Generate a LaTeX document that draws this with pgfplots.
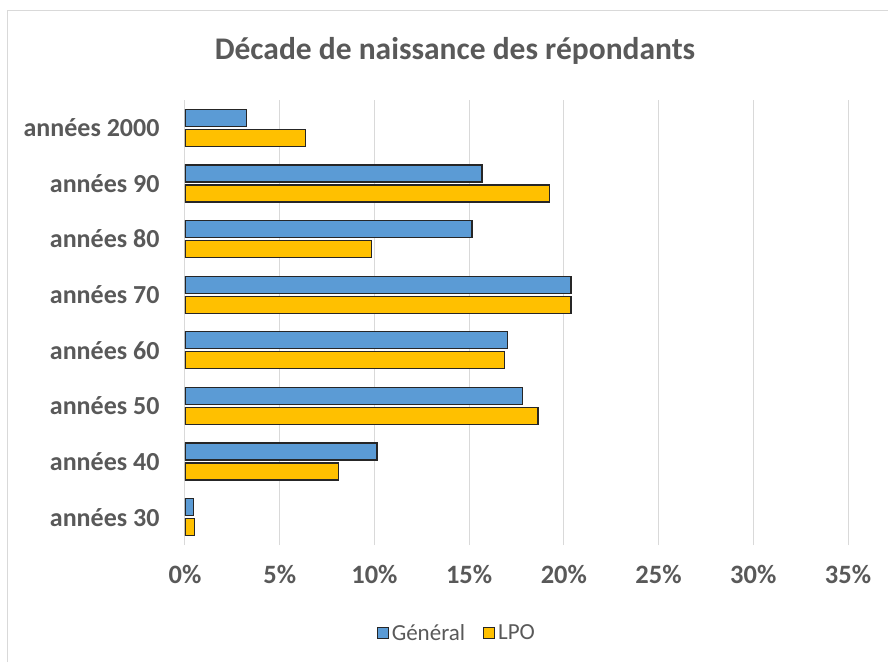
\documentclass[border=0pt]{standalone}
\usepackage{fontspec}
\setmainfont{Carlito}
\usepackage{pgfplots}
\pgfplotsset{compat=1.18}
\definecolor{cblue}{HTML}{5B9BD5}
\definecolor{cgold}{HTML}{FFC000}
\definecolor{cedge}{HTML}{262626}
\definecolor{ctext}{HTML}{595959}
\definecolor{cgrid}{HTML}{D9D9D9}
\begin{document}
\begin{tikzpicture}
\path[use as bounding box] (-185pt,-117pt) rectangle (703pt,545pt);
\draw[cgrid,line width=1.2pt] (-177.5pt,-117pt) -- (-177.5pt,534.5pt) -- (703pt,534.5pt);
\node[text=ctext,font=\fontsize{31.5}{36}\selectfont\bfseries] at (270pt,494pt) {Décade de naissance des répondants};
\begin{axis}[
  at={(0pt,0pt)}, anchor=south west,
  scale only axis, width=663pt, height=445pt,
  xmin=0, xmax=35, ymin=-0.5, ymax=7.5,
  xbar, bar width=17pt,
  xtick={0,5,...,35},
  xticklabel={\pgfmathprintnumber{\tick}\%},
  /pgf/number format/assume math mode=true,
  ytick={0,...,7},
  yticklabels={années 30,années 40,années 50,années 60,années 70,années 80,années 90,années 2000},
  xmajorgrids, grid style={cgrid,line width=1pt},
  major tick length=0pt,
  axis x line*=bottom,
  axis y line*=left,
  x axis line style={draw=none},
  y axis line style={draw=cgrid,line width=1pt},
  xticklabel style={font=\fontsize{26.5}{30}\selectfont\bfseries, text=ctext, yshift=-17pt},
  yticklabel style={font=\fontsize{26}{30}\selectfont\bfseries, text=ctext, xshift=-22pt},
  legend columns=2,
  legend style={at={(0.41,-0.198)}, anchor=center, draw=none, fill=none,
    font=\fontsize{23}{26}\selectfont, text=ctext,
    /tikz/every odd column/.append style={column sep=1pt},
    /tikz/every even column/.append style={column sep=16pt}},
  legend image code/.code={\filldraw[#1, line width=1pt] (0pt,-5.5pt) rectangle (11pt,5.5pt);},
]
\addplot[fill=cblue, draw=cedge, line width=1.3pt, bar shift=10pt] coordinates {
 (0.44,0) (10.14,1) (17.8,2) (17.04,3) (20.37,4) (15.15,5) (15.68,6) (3.24,7)};
\addlegendentry{Général}
\addplot[fill=cgold, draw=cedge, line width=1.3pt, bar shift=-10pt] coordinates {
 (0.49,0) (8.1,1) (18.64,2) (16.88,3) (20.37,4) (9.84,5) (19.24,6) (6.35,7)};
\addlegendentry{LPO}
\end{axis}
\end{tikzpicture}
\end{document}
